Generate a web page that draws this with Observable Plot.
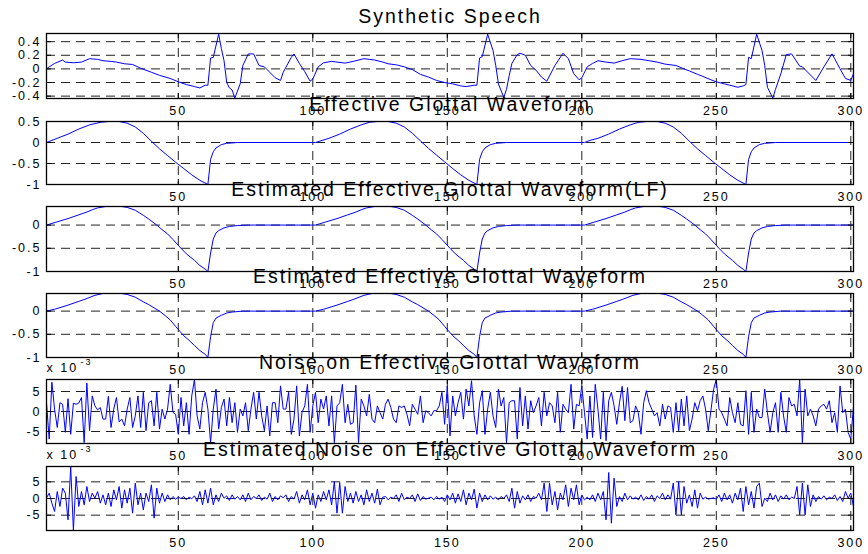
<!DOCTYPE html>
<html><head><meta charset="utf-8">
<script src="https://cdn.jsdelivr.net/npm/d3@7"></script>
<script src="https://cdn.jsdelivr.net/npm/@observablehq/plot@0.6"></script>
<style>
body{margin:0;background:#fff;}
#chart{position:relative;width:868px;height:554px;overflow:hidden;background:#fff;}
#chart svg{position:absolute;left:0;overflow:visible;}
</style></head><body><div id="chart"></div>
<script>
// ---------- data ----------
const titles = [
  "Synthetic Speech",
  "Effective Glottal Waveform",
  "Estimated Effective Glottal Waveform(LF)",
  "Estimated Effective Glottal Waveform",
  "Noise on Effective Glottal Waveform",
  "Estimated Noise on Effective Glottal Waveform"
];
const xTicks = [50, 100, 150, 200, 250, 300];
const speechTicks = [-0.4, -0.2, 0, 0.2, 0.4];
const glottalTicks = [-1, -0.5, 0, 0.5];
const lfTicks = [-1, -0.5, 0];
const estTicks = [-1, -0.5, 0];
const noiseTicks = [-5, 0, 5];
const noiseExponent = "-3";

// [sample, value]
const speechKnots = [[1,0.0],[2,0.03],[4,0.08],[7,0.13],[8,0.10],[11,0.09],[14,0.10],[17,0.15],[20,0.14],[22,0.12],[25,0.11],[27,0.10],[30,0.075],[33,0.065],[36,0.01],[40,-0.05],[43,-0.095],[47,-0.14],[50,-0.19],[53,-0.23],[56,-0.26],[58,-0.28],[60,-0.24],[61,-0.24],[62,0.16],[63,0.17],[65,0.51],[66,0.30],[67,0.12],[68,-0.2],[69,-0.28],[70,-0.31],[71,-0.43],[73,-0.22],[74,0.05],[76,0.22],[78,0.22],[80,0.05],[82,0.03],[84,-0.05],[86,-0.13],[88,-0.17],[89,-0.05],[92,0.17],[93,0.22],[95,0.08],[97,-0.04],[99,-0.18],[100,-0.15],[102,0.03],[104,0.09],[107,0.11],[109,0.10],[112,0.085],[115,0.11],[119,0.15],[121,0.14],[123,0.13],[126,0.10],[128,0.075],[131,0.06],[134,0.03],[137,-0.01],[140,-0.08],[143,-0.12],[146,-0.17],[149,-0.20],[152,-0.22],[155,-0.25],[157,-0.26],[160,-0.24],[161,-0.24],[162,0.16],[163,0.18],[165,0.51],[167,0.27],[168,0.05],[169,-0.22],[171,-0.42],[172,-0.30],[173,-0.10],[174,0.08],[176,0.21],[177,0.23],[179,0.20],[181,0.05],[183,-0.02],[185,-0.12],[187,-0.18],[190,0.05],[193,0.23],[195,0.15],[197,-0.07],[199,-0.16],[200,-0.13],[202,0.03],[204,0.08],[206,0.12],[209,0.10],[212,0.085],[215,0.12],[218,0.15],[222,0.14],[225,0.12],[228,0.10],[231,0.07],[235,0.05],[238,0.0],[240,-0.03],[243,-0.08],[245,-0.11],[248,-0.16],[250,-0.19],[253,-0.22],[255,-0.24],[258,-0.27],[260,-0.25],[261,-0.23],[262,0.17],[263,0.15],[265,0.51],[267,0.27],[268,0.05],[269,-0.27],[271,-0.43],[272,-0.30],[274,-0.07],[276,0.21],[278,0.22],[281,0.04],[282,0.03],[285,-0.09],[287,-0.17],[290,0.03],[293,0.22],[294,0.15],[296,0.0],[298,-0.14],[300,-0.17],[301,-0.07]];

const glottalKnots = [[1,0],[3,0.05],[5,0.1],[9,0.2],[13,0.32],[17,0.42],[21,0.48],[24,0.5],[28,0.5],[31,0.46],[34,0.37],[37,0.22],[40,0.03],[43,-0.15],[46,-0.31],[49,-0.47],[52,-0.62],[55,-0.77],[58,-0.9],[61,-1.0],[62,-0.4],[63,-0.22],[64,-0.13],[66,-0.05],[68,-0.02],[72,0],
  [101,0],[103,0.04],[106,0.1],[110,0.2],[114,0.32],[118,0.42],[121,0.48],[124,0.5],[128,0.5],[131,0.46],[134,0.37],[137,0.22],[140,0.04],[143,-0.14],[146,-0.3],[149,-0.46],[152,-0.62],[155,-0.77],[158,-0.9],[161,-1.0],[162,-0.4],[163,-0.22],[164,-0.13],[166,-0.05],[168,-0.02],[172,0],
  [201,0],[203,0.05],[206,0.1],[210,0.2],[214,0.32],[218,0.42],[221,0.48],[224,0.5],[228,0.5],[231,0.46],[234,0.37],[237,0.22],[240,0.03],[243,-0.15],[246,-0.31],[249,-0.47],[252,-0.62],[255,-0.77],[258,-0.9],[261,-1.0],[262,-0.4],[263,-0.22],[264,-0.13],[266,-0.05],[268,-0.02],[272,0],[301,0]];

const lfKnots = [[1,0],[5,0.07],[9,0.14],[13,0.22],[16,0.28],[18,0.33],[20,0.37],[23,0.4],[29,0.4],[31,0.38],[34,0.32],[37,0.21],[39,0.13],[42,0.0],[44,-0.1],[46,-0.19],[48,-0.31],[51,-0.5],[53,-0.62],[56,-0.76],[58,-0.87],[60,-0.95],[61,-1.0],[62,-0.6],[63,-0.3],[64,-0.17],[65,-0.12],[67,-0.06],[69,-0.03],[72,-0.01],[76,0],
  [101,0],[105,0.07],[109,0.14],[113,0.22],[116,0.28],[118,0.33],[120,0.37],[123,0.4],[129,0.4],[131,0.38],[134,0.32],[137,0.21],[139,0.13],[142,0.0],[144,-0.1],[146,-0.19],[148,-0.31],[151,-0.5],[153,-0.62],[156,-0.76],[158,-0.87],[160,-0.95],[161,-1.0],[162,-0.6],[163,-0.3],[164,-0.17],[165,-0.12],[167,-0.06],[169,-0.03],[172,-0.01],[176,0],
  [201,0],[205,0.07],[209,0.14],[213,0.22],[216,0.28],[218,0.33],[220,0.37],[223,0.4],[229,0.4],[231,0.38],[234,0.32],[237,0.21],[239,0.13],[242,0.0],[244,-0.1],[246,-0.19],[248,-0.31],[251,-0.5],[253,-0.62],[256,-0.76],[258,-0.87],[260,-0.95],[261,-1.0],[262,-0.6],[263,-0.3],[264,-0.17],[265,-0.12],[267,-0.06],[269,-0.03],[272,-0.01],[276,0],[301,0]];

const estKnots = [[1,0],[4,0.04],[9,0.13],[13,0.21],[15,0.25],[19,0.34],[22,0.38],[29,0.38],[31,0.36],[34,0.3],[37,0.2],[39,0.14],[43,0.0],[45,-0.09],[47,-0.19],[49,-0.33],[52,-0.53],[54,-0.63],[56,-0.74],[58,-0.85],[60,-0.93],[61,-1.0],[62,-0.55],[63,-0.25],[64,-0.15],[66,-0.09],[68,-0.04],[70,-0.02],[74,0],
  [101,0],[104,0.04],[109,0.13],[113,0.21],[115,0.25],[119,0.34],[122,0.38],[129,0.38],[131,0.36],[134,0.3],[137,0.2],[139,0.14],[143,0.0],[145,-0.09],[147,-0.19],[149,-0.33],[152,-0.53],[154,-0.63],[156,-0.74],[158,-0.85],[160,-0.93],[161,-1.0],[162,-0.55],[163,-0.25],[164,-0.15],[166,-0.09],[168,-0.04],[170,-0.02],[174,0],
  [201,0],[204,0.04],[209,0.13],[213,0.21],[215,0.25],[219,0.34],[222,0.38],[229,0.38],[231,0.36],[234,0.3],[237,0.2],[239,0.14],[243,0.0],[245,-0.09],[247,-0.19],[249,-0.33],[252,-0.53],[254,-0.63],[256,-0.74],[258,-0.85],[260,-0.93],[261,-1.0],[262,-0.55],[263,-0.25],[264,-0.15],[266,-0.09],[268,-0.04],[270,-0.02],[274,0],[301,0]];

// noise samples 1..301, in units of 1e-3
const noiseValues = [
2.2,-6.9,7.3,0.6,-4.0,2.2,1.8,-5.2,3.2,-5.7,
2.1,1.8,2.1,3.5,-7.8,7.1,-4.8,3.9,1.4,0.4,
1.0,-1.9,-1.9,3.8,-4.0,0.6,3.5,-2.6,-1.9,-3.6,
0.6,3.5,-4.0,-1.1,3.9,-4.0,4.8,-4.8,2.2,2.7,
-3.6,4.8,-4.4,0.6,-1.9,0.6,6.8,-0.2,-0.7,-5.7,
3.5,-3.6,2.2,-5.7,3.9,8.0,-1.1,-4.4,2.2,4.8,
0.6,-7.8,0.6,5.6,-4.4,1.0,3.1,-3.6,3.5,-2.8,
2.2,-5.2,0.6,-1.1,2.2,-4.8,0.6,4.8,-1.9,4.8,
-1.1,-4.8,1.4,-6.1,2.2,2.2,-2.8,6.4,0.6,0.6,
4.8,-5.7,-1.9,6.4,-6.1,-0.2,1.4,6.8,-5.2,1.4,
4.8,-2.8,3.1,0.6,3.9,-3.6,3.9,-7.8,1.4,2.2,
6.8,-2.8,1.8,-3.2,-2.8,6.6,-7.8,3.1,1.4,-1.1,
4.3,-1.9,-2.8,1.4,-0.3,-1.9,1.8,3.1,1.0,-1.9,
-2.8,1.4,1.0,1.4,-0.7,-3.6,1.8,0.6,-0.7,3.9,
-2.8,0.2,-0.3,-1.1,0.2,0.2,1.4,4.8,-3.2,6.4,
-6.1,3.9,-1.1,2.2,4.8,-1.9,5.6,1.4,7.7,-1.1,
-5.7,2.2,5.2,-5.7,0.6,4.8,-1.1,-4.0,5.6,1.4,
3.5,-7.8,2.2,2.7,2.7,-6.9,6.0,-3.6,3.9,-4.4,
2.7,-0.3,1.4,3.5,-3.6,4.8,-1.1,2.2,1.4,-2.8,
4.8,-5.2,1.8,0.6,-0.3,6.8,-4.4,1.8,1.4,6.4,
-0.3,
-6.9,3.9,-6.5,6.8,0.6,-6.9,4.8,-7.3,2.7,4.8,
1.4,-3.2,2.2,6.3,-2.3,6.0,-2.8,-2.3,1.4,-0.3,
-5.7,2.2,5.2,2.2,0.6,-1.1,-0.3,-3.6,1.8,-1.9,
1.4,1.0,-5.2,2.2,-4.8,3.1,-3.6,3.9,-4.8,-1.9,
2.2,0.2,2.7,3.9,0.6,-4.8,0.2,5.6,8.0,0.6,
-0.3,-1.9,-3.6,3.5,-0.3,-2.8,2.2,-3.2,-3.6,5.2,
-5.7,4.8,-5.2,0.6,-1.5,-1.5,5.6,-0.3,-5.2,-0.3,
2.2,-5.2,4.8,-1.1,-5.2,3.5,1.4,1.8,-1.1,8.0,
-7.8,5.6,-1.1,0.6,-1.1,-3.6,0.6,1.4,1.8,0.6,
2.7,-2.8,-0.3,-5.2,6.4,-0.3,0.6,-5.2,-6.9,1.4];

const estNoiseValues = [
0.2,1.6,-1.4,-3.9,2.1,-2.4,3.1,1.6,-6.4,9.5,
-9.6,6.6,-2.4,2.1,-1.9,3.6,-0.9,1.6,0.1,2.1,
-1.4,1.1,-1.9,1.6,-2.4,2.6,-0.4,3.6,-2.9,2.6,
-1.4,3.1,-4.4,4.6,-1.9,1.6,-3.4,1.6,-0.9,4.1,
-5.9,3.1,-1.4,1.6,-0.9,1.1,-0.4,0.6,-0.2,0.4,
0,0.6,-0.4,0.4,-0.1,0.8,-0.9,2.1,-1.9,2.6,
-1.4,3.1,-1.9,1.1,-0.9,1.6,0.1,0.8,-0.6,1.1,
-0.2,0.6,-0.4,1.1,-0.9,1.6,-0.4,0.6,0,1.1,
-0.6,0.4,-0.2,1.6,-0.9,0.6,-0.4,0.8,0.2,1.1,
-0.9,0.6,-0.2,2.1,-1.4,1.1,-0.4,2.6,-1.9,1.6,
-2.9,1.1,-0.9,2.1,-0.4,2.6,-1.9,5.1,-4.4,4.8,
-4.4,3.6,-0.9,1.6,-1.4,2.1,-0.9,1.1,-1.9,2.6,
-0.9,1.6,-1.4,2.8,-1.9,0.4,0.6,-0.4,0.4,0,
1.1,-0.9,1.6,-0.4,0.4,0,1.1,-0.9,1.4,-0.6,
0.6,-0.2,0.1,0.4,-0.4,0.6,-0.2,0.4,-0.9,1.1,
-0.4,1.6,-1.4,1.4,-0.9,2.6,-1.9,1.6,-0.4,2.8,
-2.9,1.6,-0.9,1.1,-0.4,0.8,-0.2,0.4,-0.4,0.6,
0,1.1,-0.9,3.1,-2.9,2.1,-1.4,0.8,-0.4,1.1,
-0.9,0.6,0.1,1.6,-0.4,4.6,-3.9,4.6,-1.9,2.1,
-3.4,1.6,-0.4,4.1,-2.4,3.1,-0.4,4.1,-1.9,1.1,
-0.4,
0.4,-0.4,1.1,-0.9,1.6,-0.4,2.1,-6.4,7.8,-7.4,
6.1,-2.4,0.6,-0.9,1.6,-0.4,0.8,-0.2,0.4,-0.4,
1.1,-0.6,0.6,-0.2,1.1,-0.9,0.8,0,1.6,-0.4,
1.1,-0.2,4.6,-4.9,5.1,-4.9,3.6,-1.4,1.1,-2.4,
2.6,-2.9,1.6,-0.2,0.4,-0.2,0,0.2,-0.2,1.1,
-0.9,1.6,-0.4,1.1,-1.4,1.6,-0.4,3.1,-3.9,3.6,
-1.9,2.1,-2.9,3.6,4.6,-2.4,0.1,-0.9,1.6,-0.4,
1.1,-0.9,0.8,-0.2,1.1,-0.4,0.4,0,3.6,-4.9,
4.6,-4.9,4.1,-2.4,1.1,-0.9,0.6,-0.2,0.8,-0.4,
0.4,0,1.1,-0.6,0.6,-0.9,2.1,0.1,1.6,-2.4];

// ---------- layout ----------
const W = 868, ML = 46, MR = 15, MT = 34, MB = 26;
const FONT = "'Liberation Sans', Arial, Helvetica, sans-serif";

const panels = [
  {title: titles[0], top: 33, bottom: 98, ydom: [-0.435, 0.52], ticks: speechTicks,
   x: speechKnots.map(d => d[0]), y: speechKnots.map(d => d[1])},
  {title: titles[1], top: 121, bottom: 184, ydom: [-1, 0.5], ticks: glottalTicks,
   x: glottalKnots.map(d => d[0]), y: glottalKnots.map(d => d[1])},
  {title: titles[2], top: 206, bottom: 271, ydom: [-1, 0.4], ticks: lfTicks,
   x: lfKnots.map(d => d[0]), y: lfKnots.map(d => d[1])},
  {title: titles[3], top: 293, bottom: 357, ydom: [-1, 0.38], ticks: estTicks,
   x: estKnots.map(d => d[0]), y: estKnots.map(d => d[1])},
  {title: titles[4], top: 379, bottom: 443, ydom: [-8, 8], ticks: noiseTicks, exp: true,
   x: noiseValues.map((d, i) => i + 1), y: noiseValues},
  {title: titles[5], top: 466, bottom: 530, ydom: [-9.6, 9.6], ticks: noiseTicks, exp: true,
   x: estNoiseValues.map((d, i) => i + 1), y: estNoiseValues}
];

const chart = document.getElementById("chart");

panels.forEach(p => {
  const h = p.bottom - p.top;
  const fw = W - ML - MR;
  const marks = [
    Plot.ruleY(p.ticks, {y: d => d, stroke: "#222", strokeWidth: 1, strokeDasharray: "9,6"}),
    Plot.ruleX(xTicks, {x: d => d, stroke: "#222", strokeWidth: 1, strokeDasharray: "9,6"}),
    Plot.line(p.x, {x: p.x, y: p.y, stroke: "#0000ff", strokeWidth: 1, clip: true}),
    Plot.tickX(xTicks, {x: d => d, insetBottom: h - 5, stroke: "#000"}),
    Plot.tickX(xTicks, {x: d => d, insetTop: h - 5, stroke: "#000"}),
    Plot.tickY(p.ticks, {y: d => d, insetRight: fw - 5, stroke: "#000"}),
    Plot.tickY(p.ticks, {y: d => d, insetLeft: fw - 5, stroke: "#000"}),
    Plot.frame({stroke: "#000", strokeWidth: 1.3}),
    Plot.axisX(xTicks, {tickSize: 0, tickPadding: 8, label: null, tickFormat: d => String(d)}),
    Plot.axisY(p.ticks, {tickSize: 0, tickPadding: 5, label: null, tickFormat: d => String(d)}),
    Plot.text([p.title], {text: d => d, frameAnchor: "top", dy: -11, lineAnchor: "bottom",
      fontSize: 19.5, fill: "#000"})
  ];
  if (p.exp) {
    marks.push(Plot.text(["x 10"], {text: d => d, frameAnchor: "top-left", textAnchor: "start",
      dy: -8, lineAnchor: "bottom", fontSize: 12.5, fill: "#000"}));
    marks.push(Plot.text([noiseExponent], {text: d => d, frameAnchor: "top-left", textAnchor: "start",
      dx: 34, dy: -15, lineAnchor: "bottom", fontSize: 9, fill: "#000"}));
  }
  const svg = Plot.plot({
    width: W,
    height: MT + h + MB,
    marginLeft: ML, marginRight: MR, marginTop: MT, marginBottom: MB,
    x: {domain: [1, 301]},
    y: {domain: p.ydom},
    style: {background: "transparent", overflow: "visible", fontFamily: FONT,
            fontSize: "12.5px", letterSpacing: "2px", color: "#000"},
    marks
  });
  svg.style.position = "absolute";
  svg.style.top = (p.top - MT) + "px";
  svg.style.left = "0px";
  chart.appendChild(svg);
});
</script></body></html>
